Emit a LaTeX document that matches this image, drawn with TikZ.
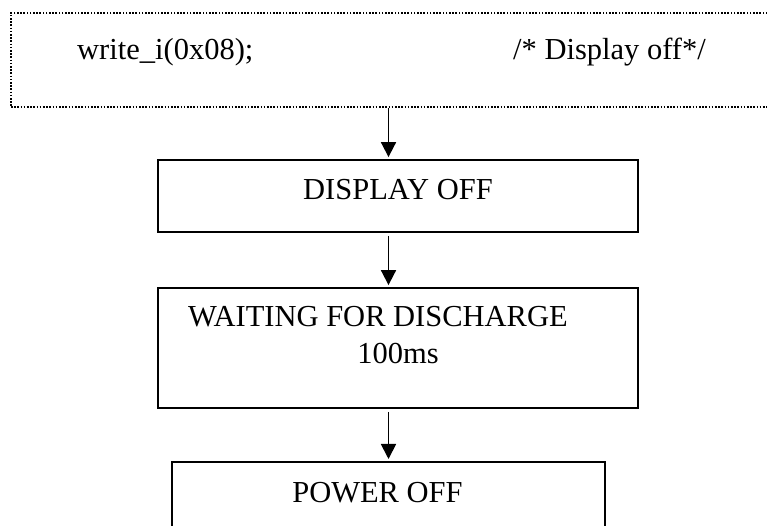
\documentclass[tikz,border=0pt]{standalone}
\usepackage{fontspec}
\setmainfont{Liberation Serif}
\usepackage{tikz}
\usetikzlibrary{arrows.meta, positioning}

\begin{document}
\begin{tikzpicture}[
    x=1pt, y=1pt,
    font=\fontsize{30.5}{37}\selectfont,
    box/.style={draw, line width=1.8pt, inner sep=0pt, align=center},
    dotbox/.style={draw, line width=1.8pt, dash pattern=on 1.6pt off 1.6pt, inner sep=0pt},
    txt/.style={inner sep=0pt},
    arr/.style={-{Triangle[length=15pt, width=15pt]}, line width=1.8pt, shorten <=3pt, shorten >=2pt}
  ]
    \useasboundingbox (0,0) rectangle (767,526);
    \node[dotbox, anchor=north west, minimum width=800pt, minimum height=94pt] (cmd) at (10,514) {};
    \node[txt, anchor=base west] (code) at (77,466) {write\_i(0x08);};
    \node[txt, anchor=base east] (note) at (706,466) {/* Display off*/};
    \node[box, minimum width=480pt, minimum height=72pt, text depth=14pt] (off) at (398,330) {DISPLAY OFF};
    \node[box, minimum width=480pt, minimum height=120pt, text depth=26pt] (wait) at (398,178)
      {WAITING FOR DISCHARGE\hspace*{40pt}\\100ms};
    \node[box, anchor=north, minimum width=433pt, minimum height=100pt, text depth=38pt] (pwr) at (388.5,65)
      {POWER OFF\hspace{22pt}};
    \draw[arr, shorten <=0pt] (cmd.south -| pwr.north) -- (off.north -| pwr.north);
    \draw[arr] (off.south -| pwr.north) -- (wait.north -| pwr.north);
    \draw[arr] (wait.south -| pwr.north) -- (pwr.north);
\end{tikzpicture}
\end{document}
